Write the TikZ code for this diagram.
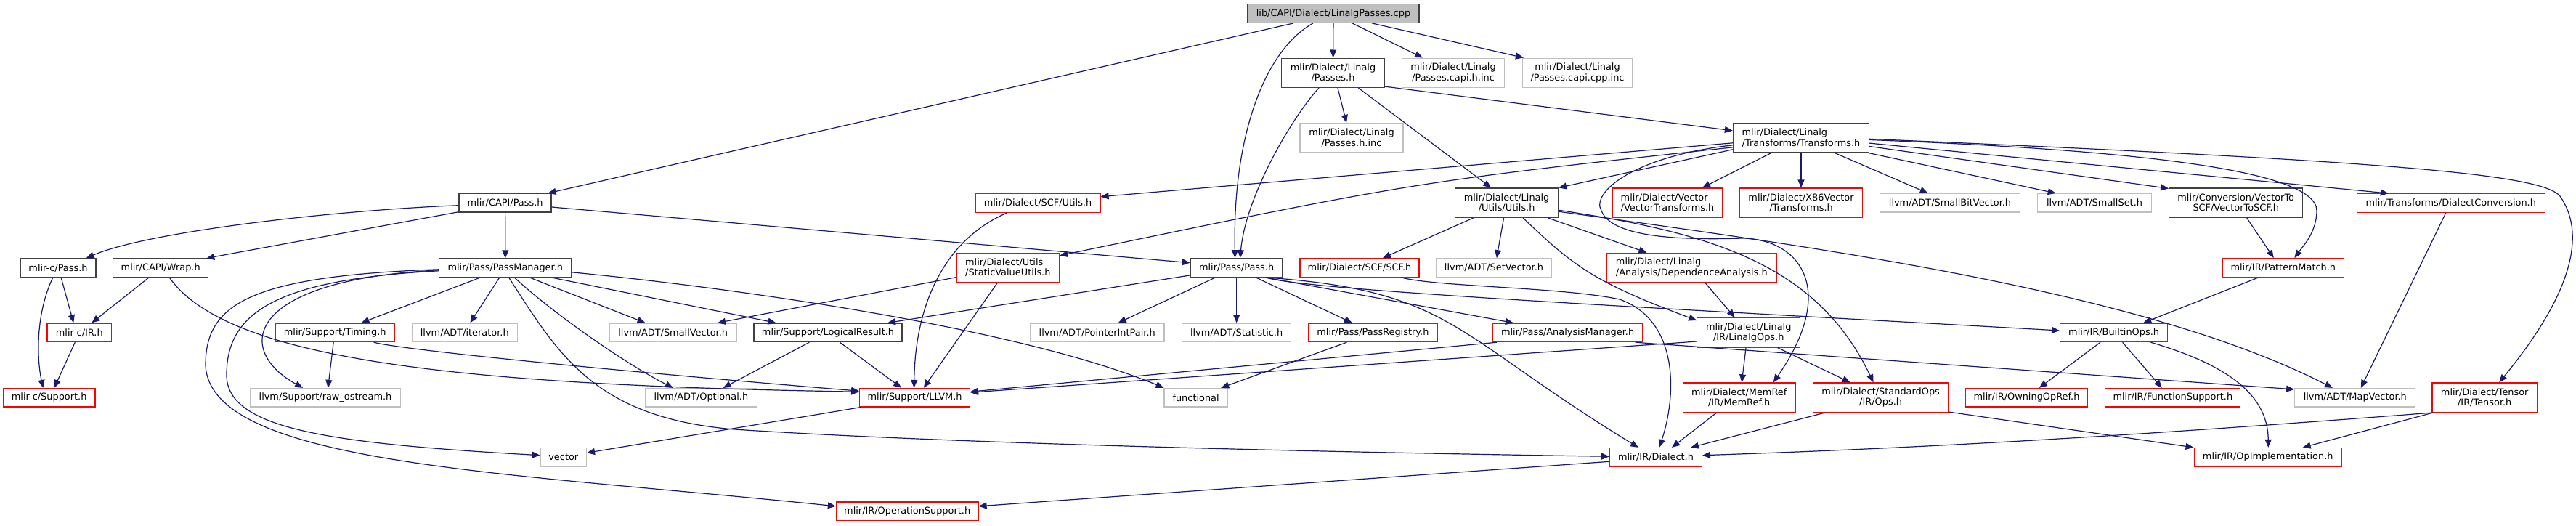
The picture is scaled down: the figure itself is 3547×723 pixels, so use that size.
\documentclass[tikz,border=0pt]{standalone}
\usepackage{fontspec}
\setmainfont{DejaVu Sans}
\usetikzlibrary{arrows.meta}
\definecolor{EdgeBlue}{HTML}{191970}
\definecolor{BoxRed}{HTML}{FF0000}
\definecolor{BoxGray}{HTML}{BFBFBF}
\definecolor{BoxDark}{HTML}{404040}
\definecolor{RootFill}{HTML}{BFBFBF}

\begin{document}
\begin{tikzpicture}[
  x=1pt,y=-1pt,font=\fontsize{12.9}{14.3}\selectfont,
  inc/.style={-{Triangle[length=11pt,width=9pt]},draw=EdgeBlue,line width=1.2pt},
  file/.style={draw,line width=1.3pt,inner sep=0pt,minimum height=25.5pt,align=center},
  hdr/.style={file,draw=BoxDark},
  trunc/.style={file,draw=BoxRed},
  ext/.style={file,draw=BoxGray},
  root/.style={file,draw=BoxDark,fill=RootFill},
  two/.style={minimum height=40.3pt},
  lalign/.style={align=left}
]
\useasboundingbox (0,0) rectangle (3547,723);

% Included file and its direct headers.
\node[root,minimum width=236pt] (lib) at (1836,18.5) {lib/CAPI/Dialect/LinalgPasses.cpp};
\node[hdr,two,minimum width=141.5pt] (passesh) at (1835.5,100.3) {mlir/Dialect/Linalg\\/Passes.h};
\node[ext,two,minimum width=141.6pt] (capih) at (2001,100.3) {mlir/Dialect/Linalg\\/Passes.capi.h.inc};
\node[ext,two,minimum width=150.8pt] (capicpp) at (2172,100.3) {mlir/Dialect/Linalg\\/Passes.capi.cpp.inc};
\node[ext,two,minimum width=142pt] (passesinc) at (1861,189.8) {mlir/Dialect/Linalg\\/Passes.h.inc};
\node[hdr,two,lalign,minimum width=187pt] (transforms) at (2480,189.8) {mlir/Dialect/Linalg\\/Transforms/Transforms.h};

% Third rank.
\node[hdr,minimum width=127pt] (capipass) at (695.6,279.3) {mlir/CAPI/Pass.h};
\node[trunc,minimum width=172pt] (scfutils) at (1429,279.5) {mlir/Dialect/SCF/Utils.h};
\node[hdr,two,minimum width=141.6pt] (linutils) at (2074.6,279.2) {mlir/Dialect/Linalg\\/Utils/Utils.h};
\node[trunc,two,lalign,minimum width=150.7pt] (vectrans) at (2296,279.2) {mlir/Dialect/Vector\\/VectorTransforms.h};
\node[trunc,two,minimum width=169pt] (x86) at (2480,279.2) {mlir/Dialect/X86Vector\\/Transforms.h};
\node[ext,minimum width=193pt] (smallbit) at (2685,279.3) {llvm/ADT/SmallBitVector.h};
\node[ext,minimum width=156.4pt] (smallset) at (2884,279.3) {llvm/ADT/SmallSet.h};
\node[hdr,two,minimum width=184pt] (vectoscf) at (3078.7,279.2) {mlir/Conversion/VectorTo\\SCF/VectorToSCF.h};
\node[trunc,minimum width=259pt] (dialconv) at (3374.8,279.5) {mlir/Transforms/DialectConversion.h};

% Fourth rank.
\node[hdr,minimum width=104pt] (mlircpass) at (80,368.8) {mlir-c/Pass.h};
\node[hdr,minimum width=131pt] (wrap) at (221.2,368.8) {mlir/CAPI/Wrap.h};
\node[hdr,minimum width=182pt] (passmgr) at (695.8,368.8) {mlir/Pass/PassManager.h};
\node[trunc,two,lalign,minimum width=141.6pt] (staticval) at (1387.8,368.5) {mlir/Dialect/Utils\\/StaticValueUtils.h};
\node[hdr,minimum width=126.7pt] (pass) at (1702.6,368.5) {mlir/Pass/Pass.h};
\node[trunc,minimum width=164pt] (scf) at (1872,368.5) {mlir/Dialect/SCF/SCF.h};
\node[ext,minimum width=159pt] (setvec) at (2057,368.5) {llvm/ADT/SetVector.h};
\node[trunc,two,lalign,minimum width=233.7pt] (depana) at (2329.3,368.5) {mlir/Dialect/Linalg\\/Analysis/DependenceAnalysis.h};
\node[trunc,minimum width=167pt] (patmatch) at (3143.8,368.5) {mlir/IR/PatternMatch.h};

% Fifth rank.
\node[trunc,minimum width=88.4pt] (mlircir) at (109.3,457.8) {mlir-c/IR.h};
\node[trunc,minimum width=164pt] (timing) at (461.2,457.8) {mlir/Support/Timing.h};
\node[ext,minimum width=145pt] (iterator) at (639.8,457.8) {llvm/ADT/iterator.h};
\node[ext,minimum width=175pt] (smallvec) at (926.7,457.8) {llvm/ADT/SmallVector.h};
\node[hdr,minimum width=204pt] (logical) at (1140,457.8) {mlir/Support/LogicalResult.h};
\node[ext,minimum width=184.5pt] (ptrint) at (1510.7,457.8) {llvm/ADT/PointerIntPair.h};
\node[ext,minimum width=150.4pt] (statistic) at (1702.6,457.8) {llvm/ADT/Statistic.h};
\node[trunc,minimum width=178pt] (passreg) at (1890.4,457.8) {mlir/Pass/PassRegistry.h};
\node[trunc,minimum width=207pt] (anamgr) at (2158.6,457.8) {mlir/Pass/AnalysisManager.h};
\node[trunc,two,minimum width=141.8pt] (linops) at (2407.7,457.8) {mlir/Dialect/Linalg\\/IR/LinalgOps.h};
\node[trunc,minimum width=148pt] (builtin) at (2910.6,457.8) {mlir/IR/BuiltinOps.h};

% Sixth rank.
\node[trunc,minimum width=126.3pt] (mlircsupport) at (67.7,547.3) {mlir-c/Support.h};
\node[ext,minimum width=207pt] (rawos) at (448,547.3) {llvm/Support/raw\_ostream.h};
\node[ext,minimum width=154pt] (optional) at (965.4,547.3) {llvm/ADT/Optional.h};
\node[trunc,minimum width=151.6pt] (llvmh) at (1259.6,547.2) {mlir/Support/LLVM.h};
\node[ext,minimum width=87pt] (functional) at (1646.6,547.2) {functional};
\node[trunc,two,minimum width=155pt] (memref) at (2394.7,547.2) {mlir/Dialect/MemRef\\/IR/MemRef.h};
\node[trunc,two,minimum width=186pt] (stdops) at (2589.6,547.2) {mlir/Dialect/StandardOps\\/IR/Ops.h};
\node[trunc,minimum width=168.4pt] (owning) at (2790.5,547.3) {mlir/IR/OwningOpRef.h};
\node[trunc,minimum width=186pt] (funcsup) at (2991.8,547.3) {mlir/IR/FunctionSupport.h};
\node[ext,minimum width=166pt] (mapvec) at (3242.8,547.3) {llvm/ADT/MapVector.h};
\node[trunc,two,minimum width=144.3pt] (tensor) at (3421.2,547.2) {mlir/Dialect/Tensor\\/IR/Tensor.h};

% Bottom ranks.
\node[ext,minimum width=63.2pt] (vector) at (775.8,629.3) {vector};
\node[trunc,minimum width=126.7pt] (dialect) at (2280,629.3) {mlir/IR/Dialect.h};
\node[trunc,minimum width=203pt] (opimpl) at (3122.7,629.3) {mlir/IR/OpImplementation.h};
\node[trunc,minimum width=195.5pt] (opsupport) at (1249.2,703.8) {mlir/IR/OperationSupport.h};

% Root includes.
\draw[inc] ([xshift=-55pt]lib.south) -- ([xshift=59pt]capipass.north);
\draw[inc] ([xshift=-28pt]lib.south) .. controls (1740,70) and (1697,190) .. ([xshift=-2pt]pass.north);
\draw[inc] (lib) -- (passesh);
\draw[inc] ([xshift=26pt]lib.south) -- ([xshift=-42pt]capih.north);
\draw[inc] ([xshift=53pt]lib.south) -- ([xshift=2pt]capicpp.north west);

% Linalg passes header.
\draw[inc] ([xshift=-19.5pt]passesh.south) .. controls (1780,160) and (1715,270) .. ([xshift=5pt]pass.north);
\draw[inc] ([xshift=6.5pt]passesh.south) -- ([xshift=-7pt]passesinc.north);
\draw[inc] ([xshift=35pt]passesh.south) -- ([xshift=-21.4pt]linutils.north);
\draw[inc] ([yshift=2pt]passesh.south east) -- ([yshift=10pt]transforms.west);

% C API side.
\draw[inc] ([yshift=-3.4pt]capipass.west) .. controls (450,290) and (200,320) .. ([xshift=38.6pt]mlircpass.north);
\draw[inc] ([yshift=1pt]capipass.south west) -- ([xshift=-3pt]wrap.north east);
\draw[inc] (capipass) -- (passmgr);
\draw[inc] ([yshift=-5.7pt]capipass.east) -- ([yshift=6.8pt]pass.west);
\draw[inc] ([xshift=4.2pt]mlircpass.south) -- ([xshift=-8pt]mlircir.north);
\draw[inc] ([xshift=-7.3pt]mlircpass.south) .. controls (50,430) and (50,490) .. ([xshift=-8.4pt]mlircsupport.north);
\draw[inc] ([xshift=-16.5pt]wrap.south) -- ([xshift=17pt]mlircir.north);
\draw[inc] ([xshift=12.2pt]wrap.south) .. controls (310,490) and (600,530) .. ([yshift=8pt]llvmh.west);
\draw[inc] ([xshift=-6pt]mlircir.south) -- ([xshift=7pt]mlircsupport.north);

% Pass manager.
\draw[inc] ([xshift=-35pt]passmgr.south) -- ([xshift=36.3pt]timing.north);
\draw[inc] ([yshift=-3pt]passmgr.west) .. controls (340,385) and (320,480) .. ([xshift=-31pt]rawos.north);
\draw[inc] ([xshift=-8.2pt]passmgr.south) -- ([xshift=7.6pt]iterator.north);
\draw[inc] ([xshift=34pt]passmgr.south) -- ([xshift=-38.2pt]smallvec.north);
\draw[inc] ([xshift=64.5pt]passmgr.south) -- ([xshift=-71.6pt]logical.north);
\draw[inc] ([xshift=12.8pt]passmgr.south) .. controls (760,430) and (860,500) .. ([xshift=-38.6pt]optional.north);
\draw[inc] ([yshift=-6pt]passmgr.east) .. controls (1000,395) and (1400,450) .. (functional.north west);
\draw[inc] ([yshift=-4pt]passmgr.west) .. controls (380,385) and (312,430) .. (312,516)
  .. controls (312,590) and (450,610) .. ([yshift=2.6pt]vector.west);
\draw[inc] ([yshift=-2pt]passmgr.west) .. controls (340,380) and (283,420) .. (283,503)
  .. controls (290,640) and (700,650) .. ([yshift=7pt]opsupport.west);
\draw[inc] ([xshift=5pt]passmgr.south) .. controls (770,490) and (820,575) .. (1011,591)
  .. controls (1300,610) and (1800,622) .. ([yshift=1pt]dialect.west);
\draw[inc] ([xshift=-2pt]timing.south) -- ([xshift=3.6pt]rawos.north);
\draw[inc] ([xshift=53.5pt]timing.south) .. controls (560,483) and (900,515) .. ([yshift=9pt]llvmh.west);
\draw[inc] ([xshift=-25.7pt]logical.south) -- ([xshift=30.3pt]optional.north);
\draw[inc] ([xshift=16.4pt]logical.south) -- ([xshift=-18.4pt]llvmh.north);
\draw[inc] ([xshift=2pt]llvmh.south west) -- ([yshift=6pt]vector.east);

% Pass header.
\draw[inc] ([yshift=3pt]pass.south west) -- ([xshift=82pt]logical.north);
\draw[inc] ([xshift=-29pt]pass.south) -- ([xshift=29pt]ptrint.north);
\draw[inc] (pass) -- (statistic);
\draw[inc] ([xshift=26.6pt]pass.south) -- ([xshift=-28.6pt]passreg.north);
\draw[inc] ([xshift=40pt]pass.south) -- ([xshift=-74.8pt]anamgr.north);
\draw[inc] ([xshift=40pt]pass.south) .. controls (1800,400) and (2300,425) .. ([yshift=2.8pt]builtin.west);
\draw[inc] ([xshift=40pt]pass.south) .. controls (2000,400) and (2000,460) .. ([xshift=-24pt]dialect.north);
\draw[inc] ([xshift=-36pt]passreg.south) -- ([xshift=34.7pt]functional.north);
\draw[inc] ([xshift=-97.8pt]anamgr.south) -- ([yshift=8pt]llvmh.east);
\draw[inc] ([xshift=93pt]anamgr.south) -- ([yshift=-2pt]mapvec.north west);

% Linalg transforms.
\draw[inc] ([yshift=-7pt]transforms.west) -- ([yshift=8.8pt]scfutils.east);
\draw[inc] ([yshift=-13pt]transforms.west) .. controls (1950,250) .. ([yshift=-4pt]staticval.north east);
\draw[inc] ([yshift=-16pt]transforms.west) -- (linutils.north east);
\draw[inc] ([xshift=-41.3pt]transforms.south) -- ([xshift=48pt]vectrans.north);
\draw[inc] (transforms) -- (x86);
\draw[inc] ([xshift=46.5pt]transforms.south) -- ([xshift=-30.4pt]smallbit.north);
\draw[inc] ([xshift=-1pt]transforms.south east) -- ([xshift=-53.3pt]smallset.north);
\draw[inc] ([yshift=-11.7pt]transforms.east) -- ([yshift=-1pt]vectoscf.north west);
\draw[inc] ([yshift=-7.3pt]transforms.east) -- ([xshift=-86pt]dialconv.north);
\draw[inc] ([yshift=-2.7pt]transforms.east) .. controls (2900,205) and (3190,230) .. (3190,290)
  .. controls (3190,320) and (3170,340) .. ([xshift=15.6pt]patmatch.north);
\draw[inc] ([yshift=-1.5pt]transforms.east) .. controls (3300,222) and (3500,240) .. (3525,270)
  .. controls (3560,320) and (3545,400) .. ([xshift=20pt]tensor.north);
\draw[inc] ([yshift=-10pt]transforms.west) .. controls (2250,215) and (2190,265) .. (2205,290)
  .. controls (2220,330) and (2330,330) .. (2400,328)
  .. controls (2480,330) and (2530,400) .. ([xshift=47pt]memref.north);

% Linalg utils.
\draw[inc] ([xshift=-46pt]linutils.south) -- ([xshift=32pt]scf.north);
\draw[inc] ([xshift=-4pt]linutils.south) -- ([xshift=3.8pt]setvec.north);
\draw[inc] ([xshift=57pt]linutils.south) -- ([xshift=-61.8pt]depana.north);
\draw[inc] ([xshift=22.6pt]linutils.south) .. controls (2170,370) and (2200,390) .. ([yshift=-4pt]linops.north west);
\draw[inc] ([yshift=-10pt]linutils.east) .. controls (2350,320) and (2500,360) .. ([xshift=-10pt]stdops.north);
\draw[inc] ([yshift=-12pt]linutils.east) .. controls (2500,340) and (2950,400) .. ([xshift=-31pt]mapvec.north);
\draw[inc] ([xshift=-42.3pt]scfutils.south) .. controls (1300,330) and (1260,420) .. ([xshift=-1pt]llvmh.north);
\draw[inc] ([yshift=-13.2pt]staticval.west) -- ([xshift=61.3pt]smallvec.north);
\draw[inc] ([xshift=-14.5pt]staticval.south) -- ([xshift=12.2pt]llvmh.north);
\draw[inc] ([xshift=57pt]scf.south) .. controls (1980,395) and (2150,395) .. (2230,412)
  .. controls (2310,440) and (2310,540) .. ([xshift=4.7pt]dialect.north);
\draw[inc] ([xshift=18.6pt]depana.south) -- ([xshift=-19pt]linops.north);
\draw[inc] ([xshift=-3.7pt]linops.south) -- ([xshift=3.6pt]memref.north);
\draw[inc] ([xshift=40pt]linops.south) -- ([xshift=-42pt]stdops.north);
\draw[inc] ([yshift=-12.2pt]linops.west) -- ([yshift=7pt]llvmh.east);

% Dialects and IR.
\draw[inc] ([xshift=-31pt]memref.south) -- ([xshift=22pt]dialect.north);
\draw[inc] ([xshift=-76.6pt]stdops.south) -- ([xshift=48pt]dialect.north);
\draw[inc] ([yshift=1pt]stdops.south east) -- (opimpl.north west);
\draw[inc] ([xshift=2pt]tensor.south west) .. controls (3000,595) and (2700,615) .. ([yshift=2.6pt]dialect.east);
\draw[inc] ([xshift=2pt]tensor.south west) -- ([xshift=48pt]opimpl.north);
\draw[inc] ([yshift=-6pt]dialect.west) -- ([yshift=7pt]opsupport.east);
\draw[inc] ([xshift=-18.6pt]builtin.south) -- ([xshift=17.3pt]owning.north);
\draw[inc] ([xshift=12pt]builtin.south) -- ([xshift=-15pt]funcsup.north);
\draw[inc] ([xshift=50.8pt]builtin.south) .. controls (3060,500) and (3123,540) .. ([xshift=0.5pt]opimpl.north);
\draw[inc] ([xshift=-34pt]patmatch.south) -- ([xshift=40.6pt]builtin.north);
\draw[inc] ([xshift=15pt]vectoscf.south) -- ([xshift=-13pt]patmatch.north);
\draw[inc] ([xshift=-7pt]dialconv.south) -- ([xshift=8pt]mapvec.north);

\end{tikzpicture}
\end{document}
